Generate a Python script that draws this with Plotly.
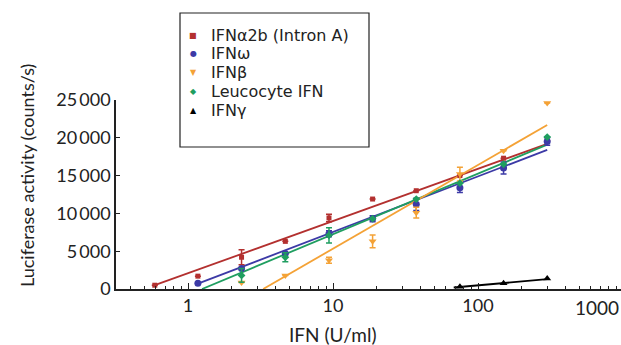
import plotly.graph_objects as go

nan = float("nan")

# ---- data ----
dose = [0.59, 1.17, 2.34, 4.69, 9.38, 18.75, 37.5, 75, 150, 300]

ifna2b = [500, 1700, 4200, 6300, 9400, 11900, 13000, 15000, 17300, 19600]
ifna2b_err = [nan, nan, 1000, nan, 500, nan, nan, nan, nan, nan]

ifnw = [None, 750, 2700, 4700, 7300, 9300, 11200, 13400, 16000, 19500]
ifnw_err = [nan, nan, nan, nan, 400, 400, 800, 650, 800, 500]

ifnb = [None, None, 850, 1800, 3800, 6300, 10100, 15200, 18300, 24600]
ifnb_err = [nan, nan, nan, nan, 400, 850, 700, 900, nan, nan]

leuco = [None, None, 1800, 4200, 7100, 9300, 11900, 14000, 16500, 20100]
leuco_err = [nan, nan, 900, 600, 1000, nan, nan, nan, nan, nan]

ifng_dose = [75, 150, 300]
ifng = [300, 750, 1400]

# fitted regression lines: (start dose, end dose), (start value, end value)
fit_red_x, fit_red_y = [0.59, 300], [500, 19200]
fit_blue_x, fit_blue_y = [1.17, 300], [700, 18400]
fit_green_x, fit_green_y = [1.25, 300], [0, 19100]
fit_orange_x, fit_orange_y = [3.3, 300], [0, 21700]
fit_black_x, fit_black_y = [68, 300], [200, 1300]

series_names = ["IFNα2b (Intron A)", "IFNω", "IFNβ", "Leucocyte IFN", "IFNγ"]
legend_glyphs = ["■", "●", "▼", "◆", "▲"]

x_tick_vals = [1, 10, 100]
x_tick_text = ["1", "10", "100"]
x_extra_label = "1000"
x_title = "IFN (U/ml)"
y_title = "Luciferase activity (counts/s)"
y_tick_vals = [0, 5000, 10000, 15000, 20000, 25000]
y_tick_text = ["0", "5\u2009000", "10\u2009000", "15\u2009000", "20\u2009000", "25\u2009000"]

# ---- style ----
RED = "#b3302f"
BLUE = "#3c3aa6"
ORANGE = "#f4a236"
GREEN = "#1f9e60"
BLACK = "#000000"
INK = "#222222"
FONT = "Lato"
LEGEND_FONT = "DejaVu Sans"
colors = [RED, BLUE, ORANGE, GREEN, BLACK]

W, H = 621, 345
ML, MR, MT, MB = 116, 0, 100, 56
PW, PH = W - ML - MR, H - MT - MB

def px_x(px):
    return (px - ML) / PW

def px_y(py):
    return (H - MB - py) / PH

fig = go.Figure()

def fit(xs, ys, color):
    fig.add_trace(go.Scatter(x=xs, y=ys, mode="lines", line=dict(color=color, width=1.8),
                             showlegend=False, hoverinfo="skip", cliponaxis=False))

fit(fit_red_x, fit_red_y, RED)
fit(fit_blue_x, fit_blue_y, BLUE)
fit(fit_green_x, fit_green_y, GREEN)
fit(fit_orange_x, fit_orange_y, ORANGE)
fit(fit_black_x, fit_black_y, BLACK)

def pts(name, xs, ys, err, color, symbol, size):
    kw = {}
    if err is not None:
        kw["error_y"] = dict(type="data", array=err, color=color, thickness=1.5, width=3)
    fig.add_trace(go.Scatter(x=xs, y=ys, mode="markers", name=name, showlegend=False,
                             marker=dict(color=color, symbol=symbol, size=size, line=dict(width=0)),
                             cliponaxis=False, **kw))

pts(series_names[0], dose, ifna2b, ifna2b_err, RED, "square", 5)
pts(series_names[1], dose, ifnw, ifnw_err, BLUE, "circle", 7)
pts(series_names[2], dose, ifnb, ifnb_err, ORANGE, "triangle-down", 7)
pts(series_names[3], dose, leuco, leuco_err, GREEN, "diamond", 6)
pts(series_names[4], ifng_dose, ifng, None, BLACK, "triangle-up", 7)

# legend built from annotations (box + rows)
annotations = []
row_y = [35, 53.5, 72.5, 91.5, 110.5]
for name, glyph, col, ry in zip(series_names, legend_glyphs, colors, row_y):
    annotations.append(dict(text=glyph, xref="paper", yref="paper", x=px_x(193), y=px_y(ry),
                            xanchor="center", yanchor="middle", showarrow=False, borderpad=0,
                            font=dict(family="DejaVu Sans", size=8, color=col)))
    annotations.append(dict(text=name, xref="paper", yref="paper", x=px_x(210), y=px_y(ry),
                            xanchor="left", yanchor="middle", showarrow=False, borderpad=0,
                            font=dict(family=LEGEND_FONT, size=16, color=INK)))

annotations.append(dict(text=x_extra_label, xref="paper", yref="paper", x=px_x(573), y=px_y(307),
                        xanchor="left", yanchor="middle", showarrow=False,
                        font=dict(family=FONT, size=19, color=INK)))
annotations.append(dict(text=x_title, xref="paper", yref="paper", x=px_x(333), y=px_y(334),
                        xanchor="center", yanchor="middle", showarrow=False,
                        font=dict(family=FONT, size=19, color=INK)))
annotations.append(dict(text=y_title, xref="paper", yref="paper", x=px_x(27), y=px_y(176),
                        xanchor="center", yanchor="middle", showarrow=False, textangle=-90,
                        font=dict(family=FONT, size=18, color=INK)))

fig.update_layout(
    width=W, height=H,
    margin=dict(l=ML, r=MR, t=MT, b=MB),
    paper_bgcolor="white", plot_bgcolor="white",
    font=dict(family=FONT, size=17, color=INK),
    showlegend=False,
    shapes=[dict(type="rect", xref="paper", yref="paper",
                 x0=px_x(180), x1=px_x(369), y0=px_y(147), y1=px_y(13),
                 line=dict(color=INK, width=1.2), fillcolor="rgba(0,0,0,0)")],
    annotations=annotations,
)

fig.update_xaxes(
    type="log", range=[-0.4966, 2.986], automargin=False,
    tickvals=x_tick_vals, ticktext=x_tick_text,
    ticks="inside", ticklen=6, tickwidth=1, tickcolor=INK,
    minor=dict(ticks="inside", ticklen=3, tickwidth=1, tickcolor=INK, dtick="D1", showgrid=False),
    showline=True, linecolor=INK, linewidth=1.5,
    showgrid=False, zeroline=False,
    tickfont=dict(family=FONT, size=18, color=INK),
)
fig.update_yaxes(
    range=[0, 25000], automargin=False,
    tickvals=y_tick_vals, ticktext=y_tick_text,
    ticks="inside", ticklen=4, tickwidth=1, tickcolor=INK,
    showline=True, linecolor=INK, linewidth=1.5,
    showgrid=False, zeroline=False,
    tickfont=dict(family=FONT, size=18, color=INK),
)

fig.write_html("out.html", config={"displayModeBar": False},
               post_script="document.body.style.margin='0';document.body.style.overflow='hidden';")
